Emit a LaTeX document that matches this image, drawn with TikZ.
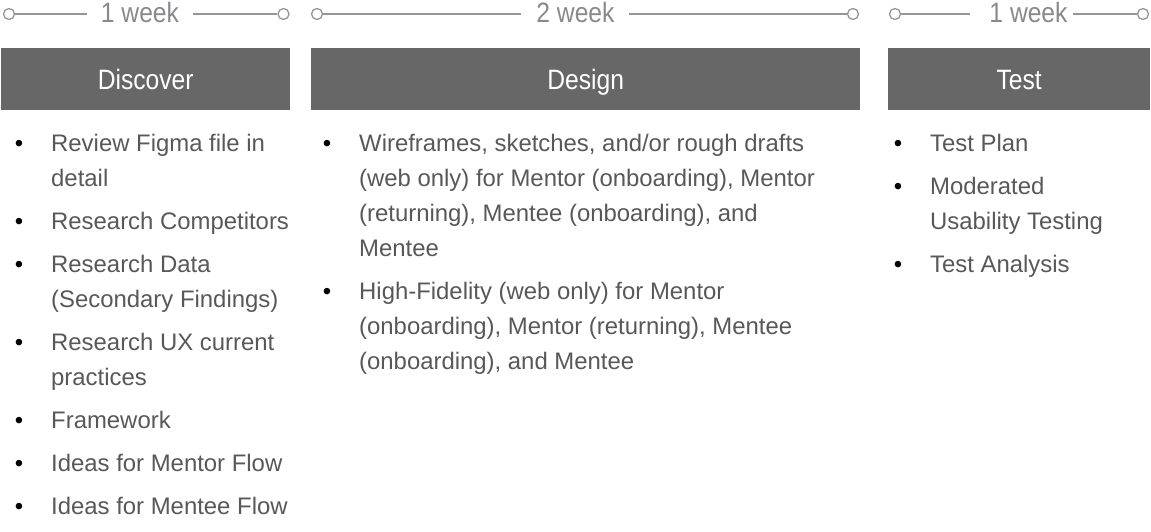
\documentclass[tikz,border=0pt]{standalone}
\usepackage{fontspec}
\setmainfont{Liberation Sans}
\newfontfamily\condfont[FakeStretch=0.88]{Liberation Sans}
\definecolor{boxgray}{RGB}{102,103,102}
\definecolor{txtgray}{RGB}{88,88,88}
\definecolor{linegray}{RGB}{150,150,150}
\definecolor{wkgray}{RGB}{135,137,140}
\newcommand{\bul}{\leavevmode\llap{\textcolor{black}{•}\hspace{28pt}}}
\tikzset{
  phase/.style={anchor=north west, fill=boxgray, draw=none, inner sep=0pt,
    minimum height=62pt, text=white, font=\condfont\fontsize{28}{30}\selectfont,
    text height=20pt, text depth=0pt},
  wk/.style={anchor=base, inner sep=0pt, text=wkgray, font=\condfont\fontsize{28}{30}\selectfont},
  tdot/.style={circle, draw=linegray, line width=1.3pt, fill=white, minimum size=11pt, inner sep=0pt},
  tline/.style={draw=linegray, line width=1.6pt},
  bitem/.style={anchor=base west, inner sep=0pt, text=txtgray, font=\fontsize{23.9}{35}\selectfont}
}
\begin{document}
\begin{tikzpicture}[x=1pt, y=-1pt]
\useasboundingbox (0,0) rectangle (1151,532);
% timelines
\node[tdot] (a1) at (9,14) {};
\node[tdot] (a2) at (283.5,14) {};
\node[wk] (aw) at (140,23) {1 week};
\coordinate (a1e) at (87,14);
\coordinate (a2e) at (193,14);
\draw[tline] (a1) -- (a1e);
\draw[tline] (a2e) -- (a2);

\node[tdot] (b1) at (317,14) {};
\node[tdot] (b2) at (853,14) {};
\node[wk] (bw) at (575.5,23) {2 week};
\coordinate (b1e) at (521,14);
\coordinate (b2e) at (629,14);
\draw[tline] (b1) -- (b1e);
\draw[tline] (b2e) -- (b2);

\node[tdot] (c1) at (895,14) {};
\node[tdot] (c2) at (1143,14) {};
\node[wk] (cw) at (1028.5,23) {1 week};
\coordinate (c1e) at (970,14);
\coordinate (c2e) at (1073,14);
\draw[tline] (c1) -- (c1e);
\draw[tline] (c2e) -- (c2);

% phase boxes
\node[phase, minimum width=289pt] (disc) at (1,48) {Discover};
\node[phase, minimum width=549pt] (des) at (311,48) {Design};
\node[phase, minimum width=262pt] (test) at (888,48) {Test};

% Discover items
\node[bitem] (d1) at (51,151.5) {\parbox[t]{280pt}{\bul Review Figma file in\\detail}};
\node[bitem] (d2) at (51,229.5) {\parbox[t]{280pt}{\bul Research Competitors}};
\node[bitem] (d3) at (51,272.5) {\parbox[t]{280pt}{\bul Research Data\\(Secondary Findings)}};
\node[bitem] (d4) at (51,350.5) {\parbox[t]{280pt}{\bul Research UX current\\practices}};
\node[bitem] (d5) at (51,428.5) {\parbox[t]{280pt}{\bul Framework}};
\node[bitem] (d6) at (51,471.5) {\parbox[t]{280pt}{\bul Ideas for Mentor Flow}};
\node[bitem] (d7) at (51,514.5) {\parbox[t]{280pt}{\bul Ideas for Mentee Flow}};

% Design items
\node[bitem] (g1) at (359,151.5) {\parbox[t]{500pt}{\bul Wireframes, sketches, and/or rough drafts\\(web only) for Mentor (onboarding), Mentor\\(returning), Mentee (onboarding), and\\Mentee}};
\node[bitem] (g2) at (359,299.5) {\parbox[t]{500pt}{\bul High-Fidelity (web only) for Mentor\\(onboarding), Mentor (returning), Mentee\\(onboarding), and Mentee}};

% Test items
\node[bitem] (t1) at (930,151.5) {\parbox[t]{220pt}{\bul Test Plan}};
\node[bitem] (t2) at (930,194.5) {\parbox[t]{220pt}{\bul Moderated\\Usability Testing}};
\node[bitem] (t3) at (930,272.5) {\parbox[t]{220pt}{\bul Test Analysis}};
\end{tikzpicture}
\end{document}
